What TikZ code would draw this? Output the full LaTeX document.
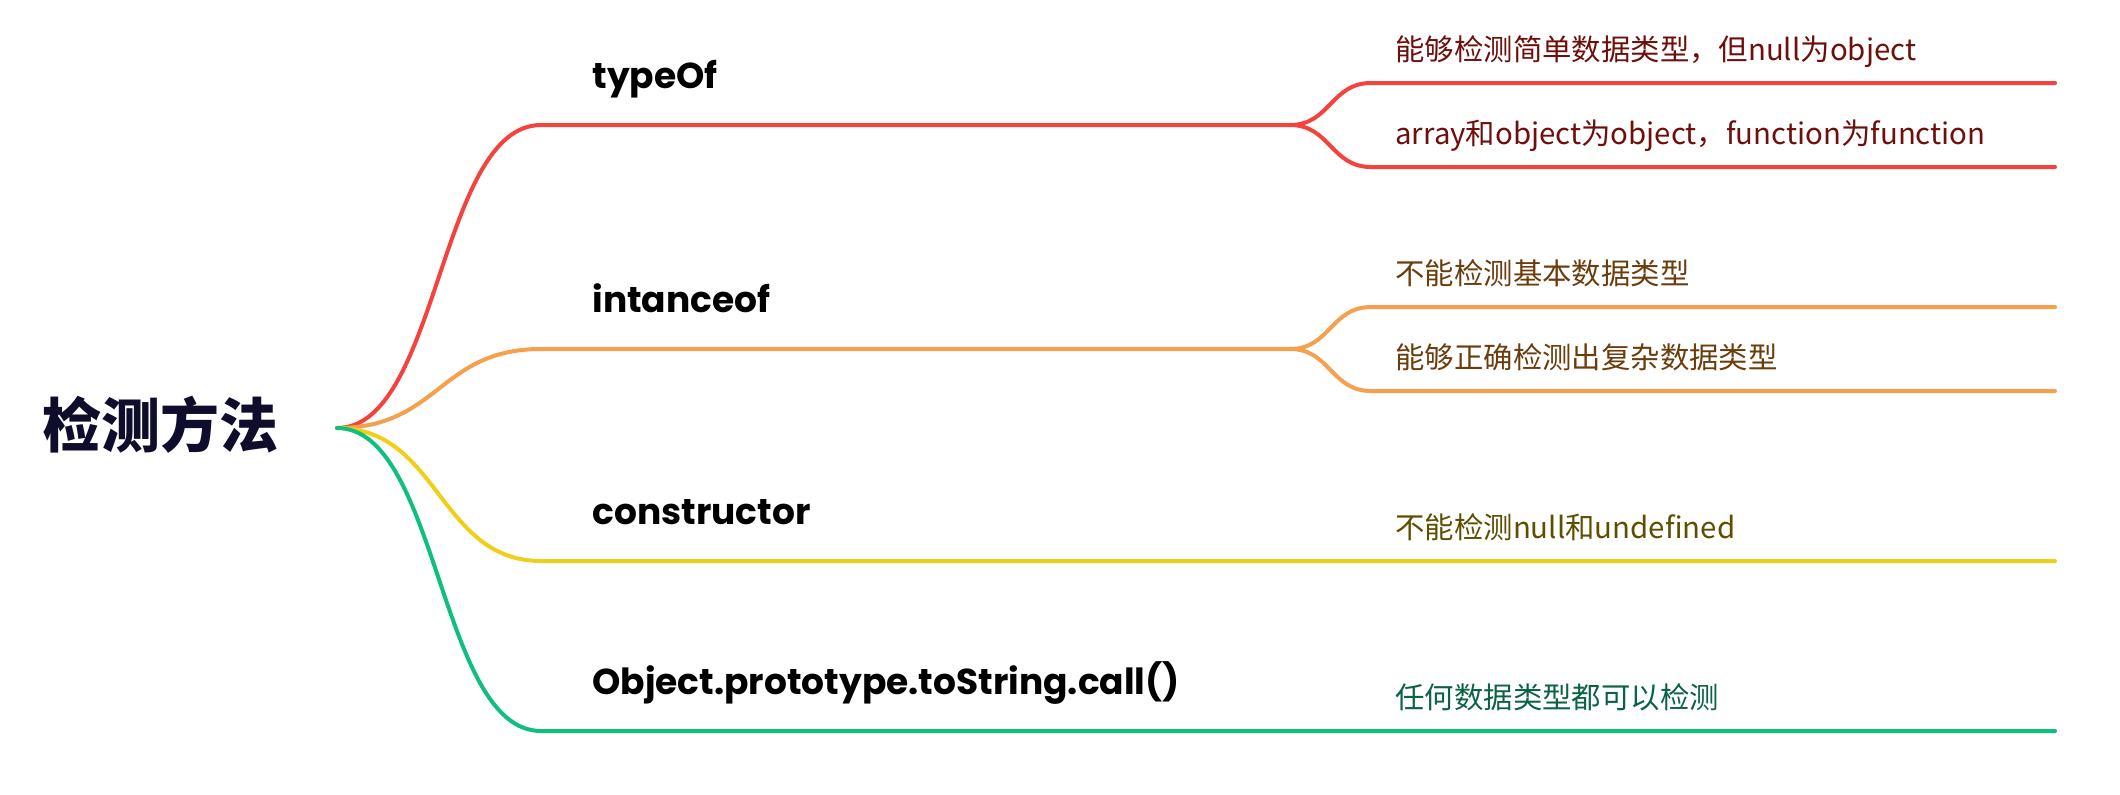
\documentclass[tikz,border=0pt]{standalone}
\usepackage{fontspec}
\newfontfamily\cjk{Noto Sans CJK SC}
\newfontfamily\labfont{Poppins}
\definecolor{cred}{HTML}{F4433C}
\definecolor{corange}{HTML}{F6A04D}
\definecolor{cyellow}{HTML}{F1CE1A}
\definecolor{cgreen}{HTML}{0EBF7D}
\definecolor{tred}{HTML}{6E0F0B}
\definecolor{torange}{HTML}{6B3D0D}
\definecolor{tyellow}{HTML}{5E4E00}
\definecolor{tgreen}{HTML}{0B6343}
\definecolor{troot}{HTML}{0E0E2C}
\tikzset{
  rootnode/.style={inner sep=0pt, anchor=base west, font=\cjk\bfseries\fontsize{29.5pt}{34pt}\selectfont, text=troot},
  labnode/.style={inner sep=0pt, anchor=base west, font=\labfont\bfseries\fontsize{18pt}{22pt}\selectfont, text=black},
  leafnode/.style={inner sep=0pt, anchor=base west, font=\cjk\fontsize{14.7pt}{17pt}\selectfont},
  branch/.style={line width=2pt, line cap=round},
}
\begin{document}
\begin{tikzpicture}[x=0.5pt,y=-0.5pt]
\useasboundingbox (0,0) rectangle (2120,794);
% root
\node[rootnode] (root) at (42,447) {检测方法};
\coordinate (R) at (337,428);
% labels
\node[labnode] (l1) at (592,88) {typeOf};
\node[labnode] (l2) at (592,312) {intanceof};
\node[labnode] (l3) at (592,524) {constructor};
\node[labnode] (l4) at (592,694) {Object.prototype.toString.call()};
% leaves
\node[leafnode, text=tred] (a1) at (1395,60) {能够检测简单数据类型，但null为object};
\node[leafnode, text=tred] (a2) at (1395,144) {array和object为object，function为function};
\node[leafnode, text=torange] (b1) at (1395,284) {不能检测基本数据类型};
\node[leafnode, text=torange] (b2) at (1395,368) {能够正确检测出复杂数据类型};
\node[leafnode, text=tyellow] (c1) at (1395,538) {不能检测null和undefined};
\node[leafnode, text=tgreen] (d1) at (1395,708) {任何数据类型都可以检测};
% branch coordinates
\coordinate (s1) at (541,125); \coordinate (f1) at (1290,125);
\coordinate (s2) at (541,349); \coordinate (f2) at (1290,349);
\coordinate (s3) at (541,561); \coordinate (e3) at (2055,561);
\coordinate (s4) at (541,731); \coordinate (e4) at (2055,731);
\coordinate (a1s) at (1371,83);  \coordinate (a1e) at (2055,83);
\coordinate (a2s) at (1371,167); \coordinate (a2e) at (2055,167);
\coordinate (b1s) at (1371,307); \coordinate (b1e) at (2055,307);
\coordinate (b2s) at (1371,391); \coordinate (b2e) at (2055,391);
% red
\draw[branch, cred] (R) .. controls (439,428) and (439,125) .. (s1) -- (f1);
\draw[branch, cred] (f1) .. controls (1330,125) and (1331,83) .. (a1s) -- (a1e);
\draw[branch, cred] (f1) .. controls (1330,125) and (1331,167) .. (a2s) -- (a2e);
% orange
\draw[branch, corange] (R) .. controls (439,428) and (439,349) .. (s2) -- (f2);
\draw[branch, corange] (f2) .. controls (1330,349) and (1331,307) .. (b1s) -- (b1e);
\draw[branch, corange] (f2) .. controls (1330,349) and (1331,391) .. (b2s) -- (b2e);
% yellow
\draw[branch, cyellow] (R) .. controls (439,428) and (439,561) .. (s3) -- (e3);
% green
\draw[branch, cgreen] (R) .. controls (439,428) and (439,731) .. (s4) -- (e4);
\end{tikzpicture}
\end{document}
